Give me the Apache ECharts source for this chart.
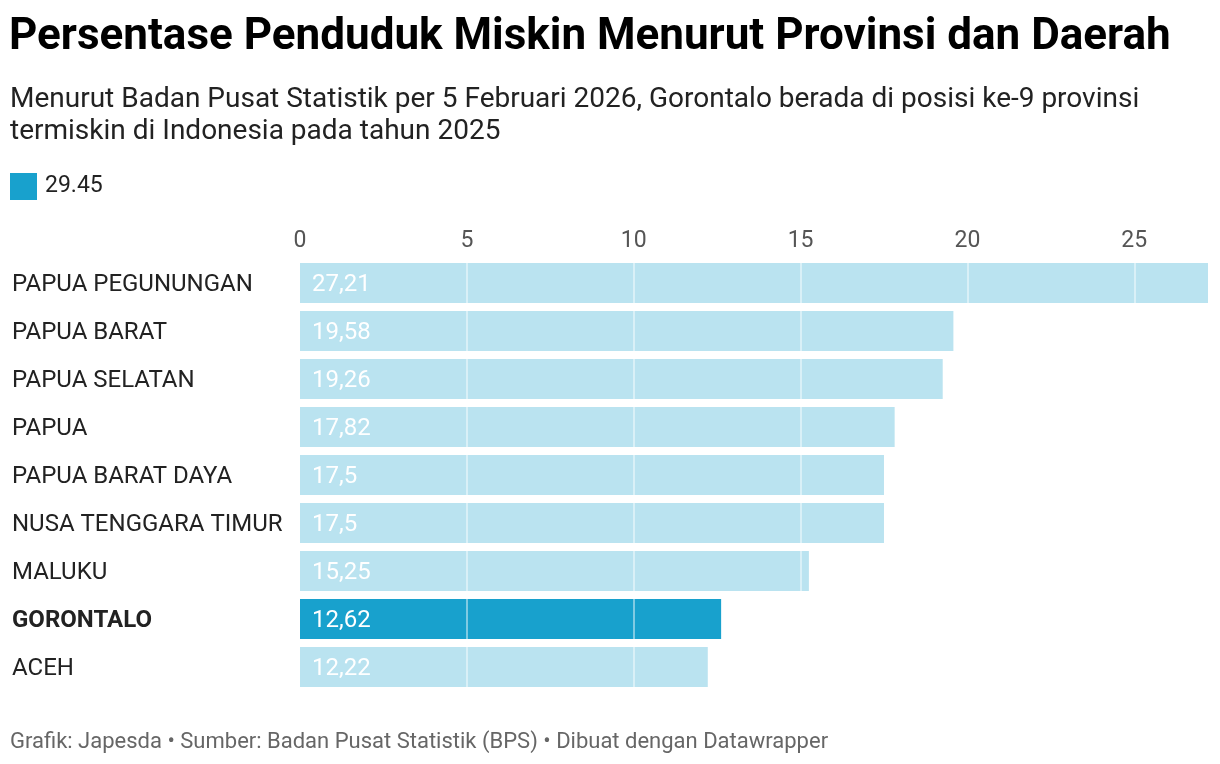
<!DOCTYPE html>
<html>
<head>
<meta charset="utf-8">
<script src="https://cdn.jsdelivr.net/npm/echarts@6/dist/echarts.min.js"></script>
<style>
  html, body { margin: 0; padding: 0; background: #fff; }
  #chart { width: 1220px; height: 764px; }
</style>
</head>
<body>
<div id="chart"></div>
<script>
// data
const provinces = ['PAPUA PEGUNUNGAN', 'PAPUA BARAT', 'PAPUA SELATAN', 'PAPUA', 'PAPUA BARAT DAYA',
  'NUSA TENGGARA TIMUR', 'MALUKU', 'GORONTALO', 'ACEH']
const values = [27.21, 19.58, 19.26, 17.82, 17.5, 17.5, 15.25, 12.62, 12.22]
const highlight = 'GORONTALO'
const xTicks = [0, 5, 10, 15, 20, 25]
const legendName = '29.45'

const font = 'Roboto, "Noto Sans", sans-serif'
const light = '#bae3f0'
const dark = '#18a1cd'

const chart = echarts.init(document.getElementById('chart'))

chart.setOption({
  animation: false,
  textStyle: { fontFamily: font },
  title: [
    {
      text: 'Persentase Penduduk Miskin Menurut Provinsi dan Daerah',
      left: 9, top: 16, padding: 0,
      textStyle: { fontSize: 44, fontWeight: 'bold', color: '#000', fontFamily: font }
    },
    {
      text: 'Menurut Badan Pusat Statistik per 5 Februari 2026, Gorontalo berada di posisi ke-9 provinsi\ntermiskin di Indonesia pada tahun 2025',
      left: 10, top: 84, padding: 0,
      textStyle: { fontSize: 28, fontWeight: 'normal', color: '#222', lineHeight: 32, fontFamily: font }
    },
    {
      text: 'Grafik: Japesda • Sumber: Badan Pusat Statistik (BPS) • Dibuat dengan Datawrapper',
      left: 10, top: 731, padding: 0,
      textStyle: { fontSize: 22, fontWeight: 'normal', color: '#666', fontFamily: font }
    }
  ],
  legend: {
    left: 10, top: 173, padding: 0,
    itemWidth: 27, itemHeight: 27,
    icon: 'rect',
    textStyle: { fontSize: 23, color: '#222', padding: [4, 0, 0, 3] },
    data: [legendName]
  },
  grid: { left: 300, right: 12, top: 259, height: 432, containLabel: false },
  xAxis: {
    type: 'value',
    position: 'top',
    min: xTicks[0],
    max: values[0],
    interval: xTicks[1] - xTicks[0],
    z: 10,
    axisLine: { show: false },
    axisTick: { show: false },
    axisLabel: {
      margin: 6, fontSize: 23, color: '#555', showMaxLabel: false,
      formatter: v => xTicks.includes(v) ? String(v) : ''
    },
    splitLine: {
      show: true, showMinLine: false, showMaxLine: false,
      lineStyle: { color: 'rgba(255,255,255,0.45)', width: 2 }
    }
  },
  yAxis: {
    type: 'category',
    inverse: true,
    data: provinces,
    axisLine: { show: false },
    axisTick: { show: false },
    axisLabel: {
      align: 'left', margin: 288, fontSize: 24, color: '#222', padding: [4, 0, 0, 0],
      formatter: v => v === highlight ? '{b|' + v + '}' : v,
      rich: { b: { fontWeight: 'bold', fontSize: 24, color: '#222', fontFamily: font } }
    }
  },
  series: [{
    name: legendName,
    type: 'bar',
    barWidth: 40,
    color: dark,
    data: values.map((v, i) => ({
      value: v,
      itemStyle: { color: provinces[i] === highlight ? dark : light }
    })),
    label: {
      show: true, position: 'insideLeft', distance: 12, offset: [0, 2],
      fontSize: 24, color: '#fff',
      formatter: p => String(p.value).replace('.', ',')
    }
  }]
})
</script>
</body>
</html>
